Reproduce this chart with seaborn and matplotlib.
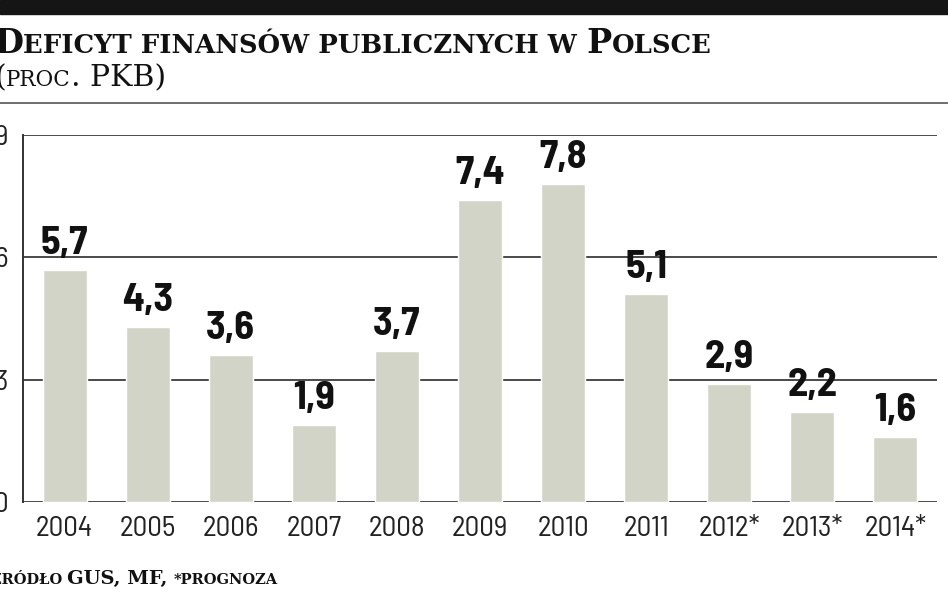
import numpy as np
import matplotlib
matplotlib.use("Agg")
import matplotlib.pyplot as plt
import seaborn as sns
import pandas as pd

# dane
years = ["2004", "2005", "2006", "2007", "2008", "2009", "2010", "2011", "2012*", "2013*", "2014*"]
deficit = [5.7, 4.3, 3.6, 1.9, 3.7, 7.4, 7.8, 5.1, 2.9, 2.2, 1.6]
yticks = [0, 3, 6, 9]

df = pd.DataFrame({"rok": years, "deficyt": deficit})

sns.set_style("white")
cond = ["Barlow Semi Condensed", "DejaVu Sans"]
slab = ["Roboto Slab", "DejaVu Serif"]
plt.rcParams["font.family"] = cond

fig = plt.figure(figsize=(9.48, 5.93), dpi=100)
ax = fig.add_axes([0.0243, 0.1535, 0.9641, 0.6188])

sns.barplot(data=df, x="rok", y="deficyt", color="#d3d4c8", width=0.53,
            saturation=1, ax=ax, zorder=3)

ax.set_ylim(0, 9)
ax.set_xlim(-0.5, len(years) - 0.5)
ax.set_yticks(yticks)
ax.set_yticklabels([str(t) for t in yticks])
ax.yaxis.grid(True, color="#4a4a4a", linewidth=1.4, zorder=1)
ax.set_axisbelow(True)
ax.set_xlabel("")
ax.set_ylabel("")
ax.tick_params(axis="both", length=0, labelsize=21, colors="#222222")
ax.tick_params(axis="y", pad=11)
ax.tick_params(axis="x", pad=10)
for s in ["top", "right", "bottom"]:
    ax.spines[s].set_visible(False)
ax.spines["left"].set_color("#333333")
ax.spines["left"].set_linewidth(1.4)

for i, v in enumerate(deficit):
    ax.text(i, v + 0.22, f"{v:.1f}".replace(".", ","), ha="center", va="bottom",
            fontsize=29, fontweight="bold", color="#111111")

# pasek i linia u gory
fig.patches.append(plt.Rectangle((0, 1 - 14 / 593), 1, 14 / 593, transform=fig.transFigure,
                                 color="#151515", zorder=5))
fig.add_artist(plt.Line2D([0, 1], [1 - 103 / 593, 1 - 103 / 593], transform=fig.transFigure,
                          color="#555555", linewidth=1.2))

renderer = fig.canvas.get_renderer()
W = fig.get_figwidth() * fig.dpi


def small_caps(parts, x, y, family, weight):
    # parts: (tekst, rozmiar)
    for txt, size in parts:
        t = fig.text(x, y, txt, fontsize=size, fontweight=weight, family=family,
                     va="baseline", ha="left", color="#111111")
        bb = t.get_window_extent(renderer)
        x = bb.x1 / W


small_caps([("D", 24), ("EFICYT FINANSÓW PUBLICZNYCH W ", 18.6), ("P", 24), ("OLSCE", 18.6)],
           -0.006, 1 - 53 / 593, slab, "bold")
small_caps([("(", 21.5), ("PROC", 15.5), (". PKB)", 21.5)],
           -0.006, 1 - 86 / 593, slab, "light")
small_caps([("ŹRÓDŁO ", 10.5), ("GUS, MF, ", 14), ("*PROGNOZA", 10.5)],
           -0.010, 1 - 584 / 593, slab, "bold")

fig.savefig("out.png", dpi=100)
